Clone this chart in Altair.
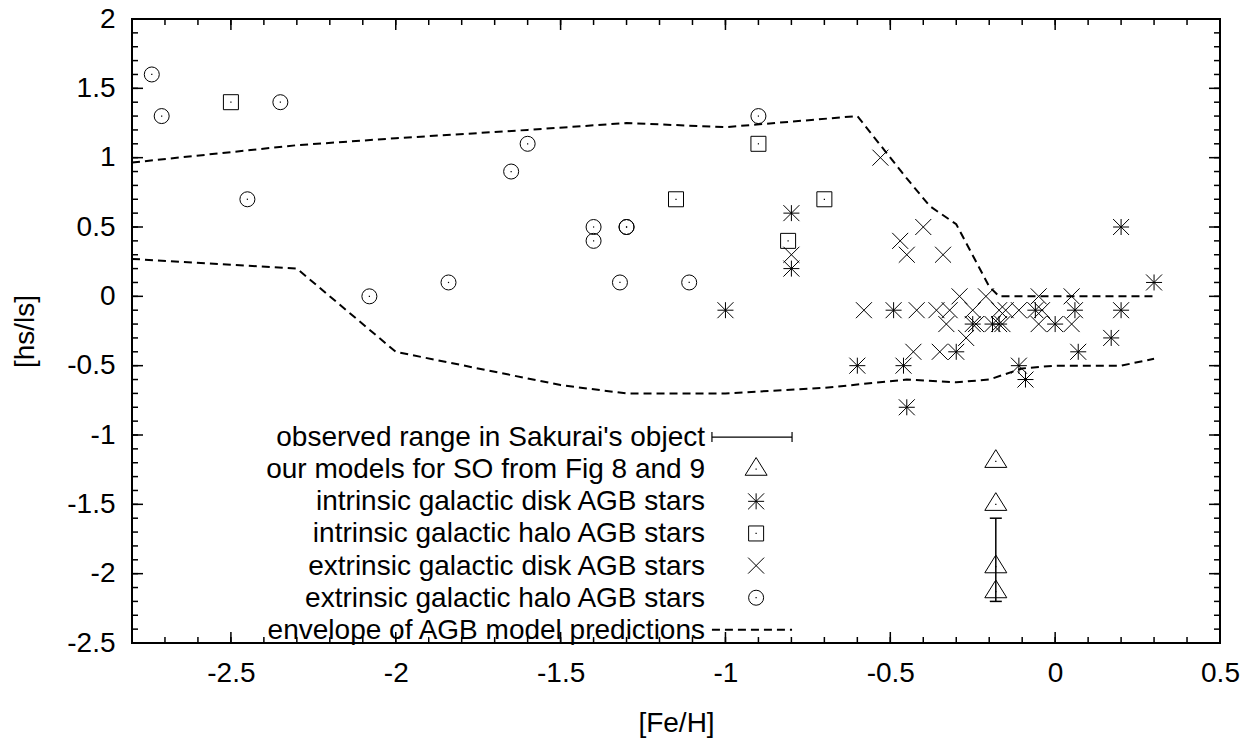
import altair as alt
import pandas as pd

# ---------------- data ----------------
ext_halo_x = [-2.74, -2.71, -2.35, -2.45, -2.08, -1.84, -1.65, -1.60, -1.40, -1.40, -1.30, -1.30, -1.32, -1.11, -0.90]
ext_halo_y = [1.6, 1.3, 1.4, 0.7, 0.0, 0.1, 0.9, 1.1, 0.5, 0.4, 0.5, 0.5, 0.1, 0.1, 1.3]

int_halo_x = [-2.50, -1.15, -0.90, -0.81, -0.70]
int_halo_y = [1.4, 0.7, 1.1, 0.4, 0.7]

int_disk_x = [-1.00, -0.80, -0.80, -0.60, -0.49, -0.46, -0.45, -0.30, -0.25, -0.19, -0.17,
              -0.11, -0.09, -0.06, 0.00, 0.06, 0.07, 0.17, 0.20, 0.20, 0.30]
int_disk_y = [-0.1, 0.6, 0.2, -0.5, -0.1, -0.5, -0.8, -0.4, -0.2, -0.2, -0.2,
              -0.5, -0.6, -0.1, -0.2, -0.1, -0.4, -0.3, 0.5, -0.1, 0.1]

ext_disk_x = [-0.80, -0.58, -0.53, -0.40, -0.47, -0.45, -0.34, -0.29, -0.21, -0.05, 0.05,
              -0.42, -0.36, -0.32, -0.25, -0.17, -0.15, -0.11, -0.04,
              -0.33, -0.24, -0.16, -0.05, 0.05, -0.27, -0.43, -0.35]
ext_disk_y = [0.3, -0.1, 1.0, 0.5, 0.4, 0.3, 0.3, 0.0, 0.0, 0.0, 0.0,
              -0.1, -0.1, -0.1, -0.1, -0.1, -0.1, -0.1, -0.1,
              -0.2, -0.2, -0.2, -0.2, -0.2, -0.3, -0.4, -0.4]

so_x = [-0.18, -0.18, -0.18, -0.18]
so_y = [-1.19, -1.50, -1.95, -2.13]

obs_x = [-0.18]
obs_lo = [-2.2]
obs_hi = [-1.6]

env_up_x = [-2.8, -2.3, -2.0, -1.6, -1.3, -1.0, -0.6, -0.45, -0.38, -0.3, -0.2, -0.17, 0.3]
env_up_y = [0.965, 1.09, 1.14, 1.2, 1.25, 1.22, 1.3, 0.85, 0.65, 0.52, 0.07, 0.0, 0.0]
env_lo_x = [-2.8, -2.3, -2.0, -1.5, -1.3, -1.0, -0.7, -0.45, -0.3, -0.2, -0.1, 0.0, 0.2, 0.3]
env_lo_y = [0.27, 0.2, -0.4, -0.64, -0.7, -0.7, -0.66, -0.6, -0.62, -0.6, -0.52, -0.5, -0.5, -0.45]

key_labels = [
    "observed range in Sakurai's object",
    "our models for SO from Fig 8 and 9",
    "intrinsic galactic disk AGB stars",
    "intrinsic galactic halo AGB stars",
    "extrinsic galactic disk AGB stars",
    "extrinsic galactic halo AGB stars",
    "envelope of AGB model predictions",
]

x_major = [-2.5, -2.0, -1.5, -1.0, -0.5, 0.0, 0.5]
y_major = [2.0, 1.5, 1.0, 0.5, 0.0, -0.5, -1.0, -1.5, -2.0, -2.5]
x_minor = [round(-2.8 + 0.1 * i, 2) for i in range(1, 33)]
y_minor = [round(-2.5 + 0.1 * i, 2) for i in range(1, 45)]

# ---------------- layout / style ----------------
W, H = 1088, 624
FONT = "Liberation Sans"
FS = 28
MAJ, MIN = 11, 6

# legend placement (in data units)
key_text_x = -1.062
key_sym_x = -0.907
key_line_x0 = -1.041
key_line_x1 = -0.798
key_row0 = -1.015
key_step = 0.2317
key_rows = [key_row0 - key_step * i for i in range(len(key_labels))]

xs = alt.Scale(domain=[-2.8, 0.5], nice=False, zero=False)
ys = alt.Scale(domain=[-2.5, 2.0], nice=False, zero=False)

xaxis = alt.Axis(values=x_major, labelExpr="'' + datum.value", ticks=False, tickSize=0,
                 domain=False, grid=False, labelPadding=30, labelBaseline="middle",
                 labelFlush=False, labelOverlap=False, titleY=80, titleBaseline="middle")
yaxis = alt.Axis(values=y_major, labelExpr="'' + datum.value", ticks=False, tickSize=0,
                 domain=False, grid=False, labelPadding=17, labelFlush=False,
                 labelOverlap=False, titleX=-107, titleBaseline="middle")


def X(f="x"):
    return alt.X(f"{f}:Q", scale=xs, axis=xaxis, title="[Fe/H]")


def Y(f="y"):
    return alt.Y(f"{f}:Q", scale=ys, axis=yaxis, title="[hs/ls]")


def df(xv, yv):
    return pd.DataFrame({"x": xv, "y": yv})


def sym(data, shape, size, sw=1.0):
    return alt.Chart(data).mark_point(shape=shape, size=size, filled=False, stroke="black",
                                      strokeWidth=sw, opacity=1).encode(x=X(), y=Y())


def dot(data):
    return alt.Chart(data).mark_point(shape="square", size=1.5, filled=True, color="black",
                                      opacity=1).encode(x=X(), y=Y())


X_PATH = "M-1,-1L1,1M-1,1L1,-1"
AST_PATH = "M-1,0L1,0M0,-1L0,1M-1,-1L1,1M-1,1L1,-1"
TRI_PATH = "M-1,0.55L1,0.55L0,-1.06Z"
HCAP = "M-1,0L1,0"
VCAP = "M0,-1L0,1"

layers = []

# envelope lines
for ex, ey in [(env_up_x, env_up_y), (env_lo_x, env_lo_y)]:
    layers.append(alt.Chart(df(ex, ey)).mark_line(color="black", strokeWidth=2,
                                                  strokeDash=[8, 5]).encode(x=X(), y=Y()))

# observed range error bar
obs_df = pd.DataFrame({"x": obs_x, "y": obs_lo, "y2": obs_hi})
layers.append(alt.Chart(obs_df).mark_rule(color="black", strokeWidth=1.5).encode(
    x=X(), y=Y(), y2=alt.Y2("y2:Q")))
layers.append(sym(df(obs_x + obs_x, obs_lo + obs_hi), HCAP, 144, 1.5))

# data points
layers.append(sym(df(ext_halo_x, ext_halo_y), "circle", 225))
layers.append(dot(df(ext_halo_x, ext_halo_y)))
layers.append(sym(df(int_halo_x, int_halo_y), "square", 225))
layers.append(dot(df(int_halo_x, int_halo_y)))
layers.append(sym(df(int_disk_x, int_disk_y), AST_PATH, 256))
layers.append(sym(df(ext_disk_x, ext_disk_y), X_PATH, 256))
layers.append(sym(df(so_x, so_y), TRI_PATH, 484))
layers.append(dot(df(so_x, so_y)))

# legend (key)
key_df = pd.DataFrame({"x": [key_text_x] * len(key_labels), "y": key_rows, "label": key_labels})
layers.append(alt.Chart(key_df).mark_text(align="right", baseline="middle", font=FONT,
                                          fontSize=FS, color="black", dy=1).encode(
    x=X(), y=Y(), text="label:N"))
# row 0: error bar sample
k0 = pd.DataFrame({"x": [key_line_x0], "x2": [key_line_x1], "y": [key_rows[0]]})
layers.append(alt.Chart(k0).mark_rule(color="black", strokeWidth=1.2).encode(
    x=X(), x2=alt.X2("x2:Q"), y=Y()))
layers.append(sym(df([key_line_x0, key_line_x1], [key_rows[0]] * 2), VCAP, 100, 1.2))
# rows 1-5: symbols
layers.append(sym(df([key_sym_x], [key_rows[1]]), TRI_PATH, 484))
layers.append(dot(df([key_sym_x], [key_rows[1]])))
layers.append(sym(df([key_sym_x], [key_rows[2]]), AST_PATH, 256))
layers.append(sym(df([key_sym_x], [key_rows[3]]), "square", 225))
layers.append(dot(df([key_sym_x], [key_rows[3]])))
layers.append(sym(df([key_sym_x], [key_rows[4]]), X_PATH, 256))
layers.append(sym(df([key_sym_x], [key_rows[5]]), "circle", 225))
layers.append(dot(df([key_sym_x], [key_rows[5]])))
# row 6: dashed line sample
layers.append(alt.Chart(df([key_line_x0, key_line_x1], [key_rows[6]] * 2)).mark_line(
    color="black", strokeWidth=2, strokeDash=[8, 5]).encode(x=X(), y=Y()))


# inward tick marks on all four sides
def xticks(vals, length):
    d = pd.DataFrame({"x": vals})
    bot = alt.Chart(d).mark_rule(color="black", strokeWidth=1.5).encode(
        x=X(), y=alt.value(H), y2=alt.value(H - length))
    top = alt.Chart(d).mark_rule(color="black", strokeWidth=1.5).encode(
        x=X(), y=alt.value(0), y2=alt.value(length))
    return [bot, top]


def yticks(vals, length):
    d = pd.DataFrame({"y": vals})
    left = alt.Chart(d).mark_rule(color="black", strokeWidth=1.5).encode(
        y=Y(), x=alt.value(0), x2=alt.value(length))
    right = alt.Chart(d).mark_rule(color="black", strokeWidth=1.5).encode(
        y=Y(), x=alt.value(W), x2=alt.value(W - length))
    return [left, right]


layers += xticks(x_major, MAJ) + xticks(x_minor, MIN)
layers += yticks(y_major, MAJ) + yticks(y_minor, MIN)

chart = alt.layer(*layers).properties(
    width=W, height=H,
    autosize=alt.AutoSizeParams(type="none"),
    padding={"left": 124, "top": 11, "right": 24, "bottom": 100},
    background="white",
).configure_view(
    stroke="black", strokeWidth=2
).configure_axis(
    labelFont=FONT, labelFontSize=FS, labelColor="black",
    titleFont=FONT, titleFontSize=FS, titleColor="black", titleFontWeight="normal",
)

chart.save("out.html", embed_options={"renderer": "svg", "actions": False})
